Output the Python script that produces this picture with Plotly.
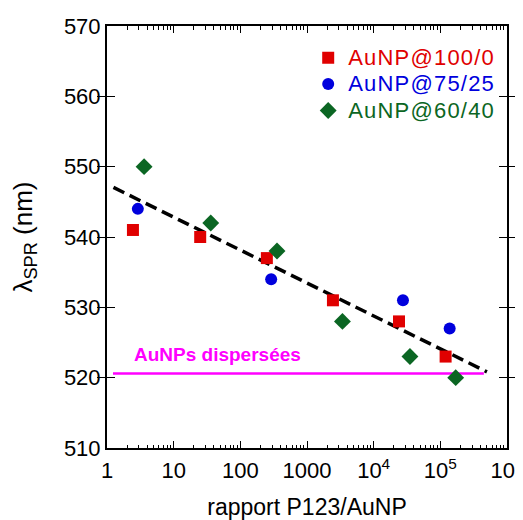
import numpy as np
import plotly.graph_objects as go

# ---- data ----
x_100_0 = [2.45, 25, 250, 2450, 24000, 120000]
y_100_0 = [541, 540, 537, 531, 528, 523]

x_75_25 = [2.9, 290, 27500, 138000]
y_75_25 = [544, 534, 531, 527]

x_60_40 = [3.6, 36, 355, 3400, 35000, 170000]
y_60_40 = [550, 542, 538, 528, 523, 520]

fit_intercept = 547.5
fit_slope = -4.68          # per decade
fit_x_range = [1.25, 5.0e5]

dispersed_level = 520.6
dispersed_x_range = [1.23, 4.5e5]

x_tickvals = [1, 10, 100, 1000, 1e4, 1e5, 1e6]
x_ticktext = ["1", "10", "100", "1000", "10<sup>4</sup>", "10<sup>5</sup>", "10<sup>6</sup>"]
x_minor_vals = [m * 10 ** d for d in range(6) for m in range(2, 10)]
y_tickvals = [510, 520, 530, 540, 550, 560, 570]

FONT = "Arial, Liberation Sans, sans-serif"
RED = "#e00000"
BLUE = "#0000dd"
GREEN = "#0b6623"
MAGENTA = "#ff00ff"


def legend_name(text, color):
    return f"<span style='color:{color};font-size:22px;letter-spacing:1.2px'>{text}</span>"


fig = go.Figure()

fx = np.array(fit_x_range)
fy = fit_intercept + fit_slope * np.log10(fx)
fig.add_trace(go.Scatter(x=fx, y=fy, mode="lines", showlegend=False,
                         line=dict(color="black", width=3.5, dash="12px,6px")))

fig.add_trace(go.Scatter(x=dispersed_x_range, y=[dispersed_level] * 2, mode="lines",
                         showlegend=False, line=dict(color=MAGENTA, width=2.5)))

fig.add_trace(go.Scatter(x=x_100_0, y=y_100_0, mode="markers",
                         name=legend_name("AuNP@100/0", RED),
                         marker=dict(symbol="square", size=12, color=RED)))
fig.add_trace(go.Scatter(x=x_75_25, y=y_75_25, mode="markers",
                         name=legend_name("AuNP@75/25", BLUE),
                         marker=dict(symbol="circle", size=12, color=BLUE)))
fig.add_trace(go.Scatter(x=x_60_40, y=y_60_40, mode="markers",
                         name=legend_name("AuNP@60/40", GREEN),
                         marker=dict(symbol="diamond", size=13, color=GREEN)))

# invisible trace on a top axis to carry mirrored minor ticks
fig.add_trace(go.Scatter(x=[x_tickvals[0]], y=[y_tickvals[0]], xaxis="x2", mode="markers",
                         marker=dict(opacity=0), showlegend=False, hoverinfo="skip"))

fig.add_annotation(x=0.37, y=523.3, xref="x", yref="y", text="<b>AuNPs dispersées</b>",
                   showarrow=False, xanchor="left", yanchor="middle",
                   font=dict(color=MAGENTA, size=19, family=FONT))

axis_common = dict(ticks="inside", tickwidth=1.2, tickcolor="black",
                   showgrid=False, zeroline=False, automargin=False)

fig.update_layout(
    width=515, height=512,
    margin=dict(l=99, r=16, t=18, b=72),
    paper_bgcolor="white", plot_bgcolor="white",
    font=dict(family=FONT, size=22, color="black"),
    legend=dict(x=0.503, y=0.968, xanchor="left", yanchor="top",
                bgcolor="rgba(0,0,0,0)", font=dict(size=18), itemsizing="trace"),
    xaxis=dict(type="log", range=[0, 6], tickvals=x_tickvals, ticktext=x_ticktext,
               ticklen=7, showline=True, linewidth=2, linecolor="black", mirror=True,
               minor=dict(ticks="inside", ticklen=3.5, tickcolor="black", tickwidth=1.2,
                          tickvals=x_minor_vals, showgrid=False),
               title=dict(text="rapport P123/AuNP", standoff=31, font=dict(size=23)),
               ticklabelstandoff=2, ticklabeloverflow="allow",
               tickfont=dict(size=22), **axis_common),
    xaxis2=dict(type="log", range=[0, 6], overlaying="x", side="top",
                tickvals=x_tickvals, showticklabels=False, ticklen=7,
                minor=dict(ticks="inside", ticklen=3.5, tickcolor="black", tickwidth=1.2,
                           tickvals=x_minor_vals, showgrid=False),
                **axis_common),
    yaxis=dict(range=[510, 570], tickvals=y_tickvals,
               ticklen=8, showline=True, linewidth=2, linecolor="black", mirror="allticks",
               title=dict(text="λ<sub>SPR</sub> (nm)", standoff=30),
               tickfont=dict(size=22), **axis_common),
)

fig.write_html("out.html")
